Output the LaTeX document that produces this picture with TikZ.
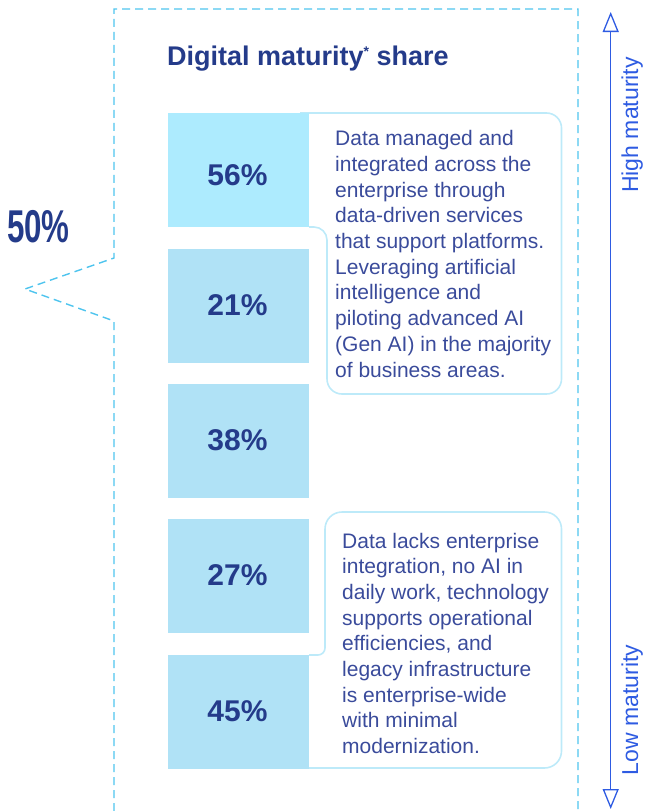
\documentclass[tikz,border=0pt]{standalone}
\usepackage{fontspec}
\setmainfont{Liberation Sans}
\usepackage{graphicx}
\usetikzlibrary{arrows.meta}
\definecolor{framecol}{HTML}{4EC4EE}
\definecolor{boxA}{HTML}{ADEBFE}
\definecolor{boxB}{HTML}{B0E2F6}
\definecolor{navy}{HTML}{243B8A}
\definecolor{bodytxt}{HTML}{3A4B9B}
\definecolor{callline}{HTML}{BDEAF9}
\definecolor{arrowblue}{HTML}{2E5BE2}
\tikzset{opentip/.tip={Triangle[open, length=20pt, width=16pt]}}
\begin{document}
\begin{tikzpicture}[x=1pt,y=-1pt,
  pbox/.style={draw=none, minimum width=141pt, minimum height=114pt, inner sep=0pt, anchor=north west},
  pct/.style={font=\fontsize{30}{30}\selectfont\bfseries, text=navy, anchor=base, inner sep=0pt},
  body/.style={font=\fontsize{21}{25.7}\selectfont, text=bodytxt, anchor=base west, inner sep=0pt},
  callout/.style={draw=callline, line width=1.6pt},
  dashframe/.style={draw=framecol, line width=1.4pt, dash pattern=on 8pt off 5pt},
  scalelab/.style={font=\fontsize{23}{23}\selectfont, text=arrowblue, rotate=90, anchor=base, inner sep=0pt}
]
\useasboundingbox (0,0) rectangle (645,811);

% dashed frame with notch
\draw[dashframe] (114,811) -- (114,321) -- (25,289) -- (114,258) -- (114,9) -- (578,9) -- (578,811);

% big figure
\node[anchor=base west, inner sep=0pt, text=navy] (fifty) at (7,242)
  {\scalebox{0.68}[1]{\fontsize{46}{46}\selectfont\bfseries 50\%}};

% title
\node[anchor=base west, inner sep=0pt, text=navy, font=\fontsize{27}{27}\selectfont\bfseries] (title) at (167,65)
  {Digital maturity\raisebox{9pt}{\fontsize{14}{14}\selectfont *} share};

% callout outlines
\draw[callout] (309,227) [rounded corners=13pt] -- (327,227) [rounded corners=15pt] -- (327,394) -- (561.5,394) -- (561.5,113) [sharp corners] -- (300,113);
\draw[callout] (309,655) [rounded corners=7pt] -- (325,655) [rounded corners=17pt] -- (325,512) -- (561.5,512) -- (561.5,768) [sharp corners] -- (300,768);

% boxes
\node[pbox, fill=boxA] (b56) at (168,113) {};
\node[pbox, fill=boxB] (b21) at (168,249) {};
\node[pbox, fill=boxB] (b38) at (168,384) {};
\node[pbox, fill=boxB] (b27) at (168,519) {};
\node[pbox, fill=boxB] (b45) at (168,655) {};

\node[pct] (t56) at (237.5,185) {56\%};
\node[pct] (t21) at (237.5,315) {21\%};
\node[pct] (t38) at (237.5,450.5) {38\%};
\node[pct] (t27) at (237.5,585.5) {27\%};
\node[pct] (t45) at (237.5,721) {45\%};

% callout texts
\node[body] (hightext) at (335,145.7) {\vtop{%
  \hbox{Data managed and}
  \hbox{integrated across the}
  \hbox{enterprise through}
  \hbox{data-driven services}
  \hbox{that support platforms.}
  \hbox{Leveraging artificial}
  \hbox{intelligence and}
  \hbox{piloting advanced AI}
  \hbox{(Gen AI) in the majority}
  \hbox{of business areas.}}};
\node[body] (lowtext) at (342,548) {\vtop{%
  \hbox{Data lacks enterprise}
  \hbox{integration, no AI in}
  \hbox{daily work, technology}
  \hbox{supports operational}
  \hbox{efficiencies, and}
  \hbox{legacy infrastructure}
  \hbox{is enterprise-wide}
  \hbox{with minimal}
  \hbox{modernization.}}};

% maturity scale
\coordinate (atop) at (610.7,12);
\coordinate (abot) at (610.7,809);
\draw[arrowblue, line width=1.3pt, opentip-opentip] (atop) -- (abot);
\node[scalelab] (high) at (638,125) {High maturity};
\node[scalelab] (low) at (638,710) {Low maturity};
\end{tikzpicture}
\end{document}
